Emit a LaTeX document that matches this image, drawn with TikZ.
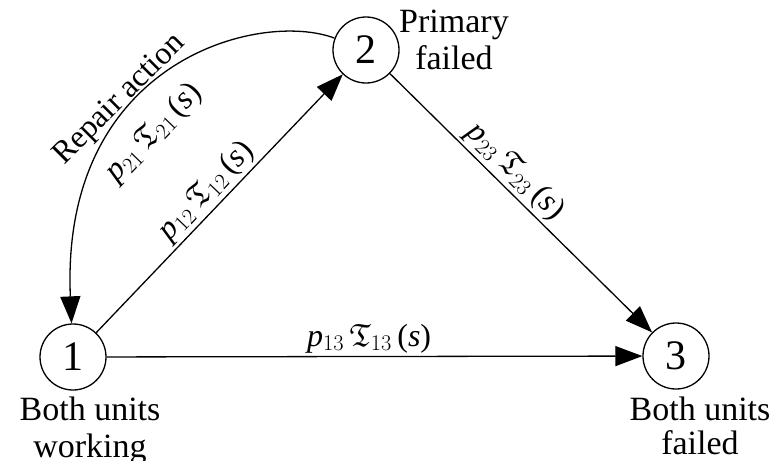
\RequirePackage{fix-cm}
\documentclass[tikz,border=0pt]{standalone}
\usepackage{amssymb}
\usepackage{fontspec}
\setmainfont{Liberation Serif}
\usetikzlibrary{arrows.meta}
\newcommand{\trlbl}[2]{\textit{p}$_{#1}\,\mathfrak{T}_{#2}$\,(\textit{s})}
\tikzset{
  state/.style={circle, draw, line width=1.3pt, minimum size=66pt, inner sep=0pt, font=\fontsize{42}{42}\selectfont},
  arr/.style={line width=1.3pt, -{Triangle[length=27pt,width=20pt]}},
  caption/.style={inner sep=0pt, font=\fontsize{34}{37}\selectfont},
  lbl/.style={inner sep=3pt, font=\fontsize{32}{34}\selectfont}
}
\begin{document}
\begin{tikzpicture}[x=1pt,y=-1pt]
\useasboundingbox (0,0) rectangle (780,461);
\node[state] (n1) at (73,357) {1};
\node[state] (n2) at (366,50) {2};
\node[state] (n3) at (676,356) {3};
\node[caption, anchor=north, align=center] (c1) at (90,397) {Both units\\working};
\node[caption, anchor=north, align=center, font=\fontsize{34}{34}\selectfont] (c3) at (700,397) {Both units\\failed};
\node[caption, anchor=north, align=center] (c2) at (454,10) {Primary\\failed};
\draw[arr] (n1) -- node[lbl, pos=0.5, sloped, above] (l12) {\trlbl{12}{12}} (n2);
\draw[arr] (n2) -- node[lbl, pos=0.43, sloped, above] (l23) {\trlbl{23}{23}} (n3);
\draw[arr] (n1) -- node[lbl, pos=0.49, above] (l13) {\trlbl{13}{13}} (n3);
\draw[arr] (n2) .. controls (260,10) and (60,60) .. (n1);
\node[lbl, rotate=45] (rep) at (120,100) {Repair action};
\node[lbl, rotate=46] (l21) at (154,133) {\trlbl{21}{21}};
\end{tikzpicture}
\end{document}
